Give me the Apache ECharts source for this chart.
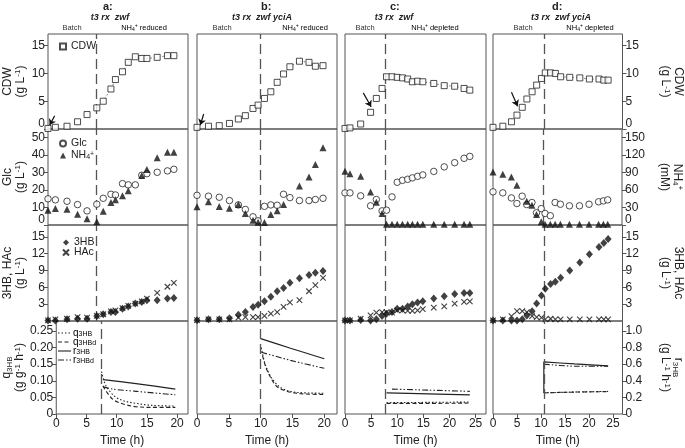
<!DOCTYPE html>
<html><head><meta charset="utf-8">
<script src="https://cdn.jsdelivr.net/npm/echarts@6/dist/echarts.min.js"></script>
<style>html,body{margin:0;padding:0;background:#fff}#c{width:685px;height:448px}</style>
</head><body><div id="c"></div>
<script>
// ---------- DATA ----------
// Column a: t3 rx zwf, NH4+ reduced
const timeA = [0, 1.15, 2.96, 4.6, 6.08, 7.6, 8.6, 9.8, 10.5, 11.6, 12.5, 13.6, 14.6, 15.4, 17.0, 18.6, 19.6];
const cdwA  = [0.1, 0.3, 0.5, 1.3, 2.6, 3.8, 5.0, 7.2, 8.9, 10.3, 12.0, 13.0, 12.7, 12.7, 12.9, 13.2, 13.2];
const glcA  = [15.0, 14.4, 13.6, 11.7, 8.1, 11.9, 15.3, 17.6, 17.2, 23.7, 23.0, 23.0, 28.5, 29.4, 30.2, 31.0, 31.9];
const nh4A  = [25.4, 28.3, 27.1, 18.5, 10.6, 5.5, 23.7, 38.6, 43.2, 50.1, 58.7, null, 84.9, 95.2, 115.8, 124.9, 124.9];
const hb3A  = [0.1, 0.1, 0.3, 0.4, 0.4, 0.9, 1.2, 1.6, 1.6, 2.2, 2.6, 3.1, 3.4, 3.7, 3.7, 4.0, 4.1];
const hacA  = [0.1, 0.3, 0.4, 0.7, 0.6, 0.9, 1.2, 1.7, 1.9, 2.3, 2.7, 3.1, 3.5, 4.0, 5.0, 6.1, 6.8];
const q3hbA  = [[7.5,0.128],[8.0,0.094],[8.8,0.070],[9.8,0.051],[11.1,0.040],[13.2,0.032],[15.8,0.026],[19.7,0.024]];
const q3hbdA = [[7.7,0.085],[8.6,0.060],[9.6,0.041],[11.1,0.030],[13.2,0.022],[15.8,0.020],[19.7,0.020]];
const r3hbA  = [[7.75,0.415],[13.2,0.366],[19.7,0.300]];
const r3hbdA = [[7.75,0.327],[9.3,0.300],[13.2,0.273],[19.7,0.231]];
const switchA = 7.5;
const arrowA = [[1.04, 2.4], [0.26, 0.7]];

// Column b: t3 rx zwf yciA, NH4+ reduced
const timeB = [0, 1.8, 3.5, 5.1, 6.5, 7.6, 8.8, 9.6, 10.6, 11.6, 12.6, 13.6, 14.6, 16.1, 17.6, 18.6, 19.8];
const cdwB  = [0.3, 0.5, 0.6, 1.0, 1.8, 2.4, 3.7, 4.3, 5.5, 6.7, 8.4, 9.9, 11.2, 12.2, 12.0, 11.3, 11.4];
const glcB  = [17.0, 16.5, 15.9, 14.0, 11.5, 8.9, 4.7, 2.4, 10.7, 11.5, 11.3, 17.6, 15.7, 14.0, 14.0, 14.6, 15.3];
const nh4B  = [31.2, 39.8, 31.7, 28.8, 35.2, 19.7, 8.2, 4.8, 4.3, 18.0, 24.4, 35.2, null, 67.2, 82.7, 103.8, 132.9];
const hb3B  = [0.15, 0.3, 0.3, 0.5, 1.1, 1.6, 2.5, 2.9, 3.5, 4.3, 5.3, 5.9, 6.8, 7.6, 8.2, 8.6, 8.9];
const hacB  = [0.15, 0.3, 0.3, 0.3, 0.6, 0.7, 0.7, 0.7, 0.9, 1.3, 1.6, 2.5, 3.3, 3.7, 5.3, 6.4, 7.7];
const q3hbB  = [[10.1,0.200],[10.6,0.157],[11.3,0.123],[12.3,0.094],[13.6,0.075],[15.7,0.065],[20.0,0.0625]];
const q3hbdB = [[10.3,0.176],[10.8,0.142],[11.6,0.109],[12.6,0.082],[14.2,0.068],[16.3,0.061],[20.0,0.059]];
const r3hbB  = [[10.0,0.908],[14.7,0.792],[20.0,0.666]];
const r3hbdB = [[10.1,0.743],[14.7,0.646],[20.0,0.550]];
const switchB = 10.0;
const arrowB = [[1.05, 2.7], [0.52, 0.7]];

// Column c: t3 rx zwf, NH4+ depleted
const timeC = [0, 0.95, 3.0, 4.9, 6.0, 7.1, 7.95, 9.0, 10.0, 11.0, 12.0, 12.9, 13.9, 14.9, 17.0, 19.0, 21.0, 22.8, 23.9];
const cdwC  = [0.1, 0.2, 0.9, 3.0, 5.5, 7.3, 9.4, 9.4, 9.3, 9.2, 9.0, 8.5, 8.6, 8.5, 8.2, 7.8, 7.7, 7.3, 7.0];
const glcC  = [18.4, 18.4, 16.7, 11.0, 14.6, 8.1, 8.5, 16.1, 24.5, 25.6, 26.2, 27.0, 27.9, 28.7, 30.7, 33.3, 35.7, 38.2, 39.3];
const nh4C  = [92.3, 88.3, 83.7, 56.9, 39.1, 19.7, 1.5, 1.5, 1.5, 1.5, 1.5, 1.5, 1.5, 1.5, 1.5, 1.5, 1.5, 1.5, 1.5];
const hb3C  = [0.1, 0.1, 0.2, 0.1, 0.3, 0.9, 1.3, 1.6, 2.2, 2.2, 2.6, 3.0, 3.3, 3.5, 4.0, 4.4, 4.8, 5.0, 5.0];
const hacC  = [0.1, 0.1, 0.4, 1.0, 1.5, 1.6, 1.6, 1.5, 1.9, 1.9, 1.8, 1.8, 1.9, 2.1, 2.4, 2.6, 3.1, 3.4, 3.5];
const q3hbC  = [[7.95,0.034],[16,0.035],[23.9,0.036]];
const q3hbdC = [[7.95,0.032],[16,0.032],[23.9,0.033]];
const r3hbC  = [[7.95,0.254],[16,0.243],[23.9,0.231]];
const r3hbdC = [[9.0,0.300],[16,0.287],[23.9,0.273]];
const switchC = 7.8;
const arrowC = [[3.5, 6.5], [5.0, 4.0]];

// Column d: t3 rx zwf yciA, NH4+ depleted
const timeD = [0, 2.05, 3.85, 5.0, 6.1, 7.06, 8.15, 9.1, 10.1, 10.9, 12.0, 13.0, 14.1, 16.0, 18.1, 20.1, 22.1, 23.1, 24.0];
const cdwD  = [0.3, 0.5, 1.3, 2.5, 3.9, 5.4, 6.7, 7.9, 9.1, 10.1, 10.1, 10.0, 9.4, 9.3, 9.2, 9.0, 9.0, 8.8, 8.8];
const glcD  = [19.0, 18.4, 15.5, 12.3, 16.5, 11.7, 12.9, 7.0, 9.4, 6.6, 5.3, 12.9, 11.9, 11.0, 11.0, 11.9, 13.3, 13.8, 14.4];
const nh4D  = [91.2, 87.1, 82.6, 68.3, null, 40.8, 34.0, 18.0, 5.5, 1.5, 1.5, 1.5, 1.5, 1.5, 1.5, 1.5, 1.5, 1.5, 1.5];
const hb3D  = [0.1, 0.1, 0.1, 0.1, 0.3, 1.0, 1.75, 3.1, 4.55, 5.75, 6.6, 7.0, 7.7, 9.0, 10.4, 11.9, 13.2, 13.9, 14.6];
const hacD  = [0.1, 0.3, 0.85, 1.75, 1.75, 1.6, 0.85, 0.7, 0.6, 0.3, 0.4, 0.3, 0.3, 0.3, 0.3, 0.3, 0.3, 0.3, 0.3];
const q3hbD  = [[10.6,0.064],[17,0.066],[24.0,0.068]];
const q3hbdD = [[10.6,0.0635],[17,0.066],[24.0,0.0675]];
const r3hbD  = [[10.6,0.254],[10.6,0.627],[17,0.603],[24.0,0.580]];
const r3hbdD = [[10.6,0.600],[17,0.575],[24.0,0.575]];
const switchD = 10.6;
const arrowD = [[3.85, 6.6], [5.13, 4.1]];

// Tick labels
const xTicksAB = [0, 5, 10, 15, 20];
const xTicksCD = [0, 5, 10, 15, 20, 25];
const cdwTicks = [0, 5, 10, 15];
const glcTicks = [0, 10, 20, 30, 40, 50];
const nh4Ticks = [0, 30, 60, 90, 120, 150];
const hbTicks = [0, 3, 6, 9, 12, 15];
const qTicks = [0, 0.05, 0.10, 0.15, 0.20, 0.25];
const rTicks = [0, 0.2, 0.4, 0.6, 0.8, 1.0];

const titles = ['a:', 'b:', 'c:', 'd:'];
const strains = ['t3 rx  zwf', 't3 rx  zwf yciA', 't3 rx  zwf', 't3 rx  zwf yciA'];
const phases = ['reduced', 'reduced', 'depleted', 'depleted'];
const rateNames = ['q3HB', 'q3HBd', 'r3HB', 'r3HBd'];

// ---------- BUILD ----------
const F = 'Liberation Sans, Arial, Helvetica, sans-serif';
const INK = '#222';
const cols = [
  {t: timeA, cdw: cdwA, glc: glcA, nh4: nh4A, hb: hb3A, hac: hacA, q: q3hbA, qd: q3hbdA, r: r3hbA, rd: r3hbdA, sw: switchA, arrow: arrowA, xmax: 21.8, xt: xTicksAB},
  {t: timeB, cdw: cdwB, glc: glcB, nh4: nh4B, hb: hb3B, hac: hacB, q: q3hbB, qd: q3hbdB, r: r3hbB, rd: r3hbdB, sw: switchB, arrow: arrowB, xmax: 22.0, xt: xTicksAB},
  {t: timeC, cdw: cdwC, glc: glcC, nh4: nh4C, hb: hb3C, hac: hacC, q: q3hbC, qd: q3hbdC, r: r3hbC, rd: r3hbdC, sw: switchC, arrow: arrowC, xmax: 27.0, xt: xTicksCD},
  {t: timeD, cdw: cdwD, glc: glcD, nh4: nh4D, hb: hb3D, hac: hacD, q: q3hbD, qd: q3hbdD, r: r3hbD, rd: r3hbdD, sw: switchD, arrow: arrowD, xmax: 27.0, xt: xTicksCD}
];
const colL = [48, 197, 345, 493];
const colW = [140, 140, 141, 141];
const rowT = [34, 129, 225, 321];
const rowH = [95, 96, 96, 97];

const pairs = (t, v) => t.map((x, i) => [x, v[i]]).filter(p => p[1] !== null);

const nameRich = {
  n: {fontSize: 12, fontFamily: F, color: INK, lineHeight: 13},
  sup: {fontSize: 8, fontFamily: F, color: INK, lineHeight: 7, verticalAlign: 'top'},
  sub: {fontSize: 8, fontFamily: F, color: INK, lineHeight: 7, verticalAlign: 'bottom'}
};
const zeroRich = {z: {fontSize: 12, fontFamily: F, color: INK, padding: [0, 0, 11, 0]}};
const shiftedZero = v => v === 0 ? '{z|0}' : String(v);

const rowsLeft = [
  {min: 0, max: 17.1, ticks: cdwTicks, name: '{n|CDW}\n{n|(g L}{sup|-1}{n|)}', fmt: shiftedZero},
  {min: 0, max: 55, ticks: glcTicks, name: '{n|Glc}\n{n|(g L}{sup|-1}{n|)}', fmt: shiftedZero},
  {min: 0, max: 17.1, ticks: hbTicks, name: '{n|3HB, HAc}\n{n|(g L}{sup|-1}{n|)}', fmt: shiftedZero},
  {min: 0, max: 0.28, ticks: qTicks, name: '{n|q}{sub|3HB}\n{n|(g g}{sup|-1}{n| h}{sup|-1}{n|)}', fmt: v => v === 0 ? '0' : v.toFixed(2)}
];
const rowsRight = [
  {min: 0, max: 17.1, ticks: cdwTicks, name: '{n|CDW}\n{n|(g L}{sup|-1}{n|)}', fmt: shiftedZero},
  {min: 0, max: 165, ticks: nh4Ticks, name: '{n|NH}{sub|4}{sup|+}\n{n|(mM)}', fmt: shiftedZero},
  {min: 0, max: 17.1, ticks: hbTicks, name: '{n|3HB, HAc}\n{n|(g L}{sup|-1}{n|)}', fmt: shiftedZero},
  {min: 0, max: 1.12, ticks: rTicks, name: '{n|r}{sub|3HB}\n{n|(g L}{sup|-1}{n| h}{sup|-1}{n|)}', fmt: v => v === 0 ? '0' : v.toFixed(1)}
];

const grid = [], xAxis = [], yAxis = [], series = [];
const switchLine = sw => ({
  silent: true, symbol: 'none', label: {show: false},
  lineStyle: {type: [10, 5], color: '#555', width: 1.3}, data: [{xAxis: sw}]
});
const hollow = {color: '#fff', borderColor: INK, borderWidth: 1};
const crossPath = 'path://M0,0L10,10M10,0L0,10';
const rateStyles = [[1.5, 2], [4, 2.5], 'solid', [6, 2, 1.5, 2, 1.5, 2]];

cols.forEach((c, ci) => {
  for (let ri = 0; ri < 4; ri++) {
    const gi = ci * 4 + ri;
    grid.push({left: colL[ci], top: rowT[ri], width: colW[ci], height: rowH[ri], show: true,
      borderColor: '#555', borderWidth: 1, backgroundColor: 'transparent'});
    const bottomRow = ri === 3;
    xAxis.push({type: 'value', gridIndex: gi, min: 0, max: c.xmax,
      axisLine: {show: false}, splitLine: {show: false},
      axisTick: {show: bottomRow, length: 4, inside: false, lineStyle: {color: '#555'}, customValues: c.xt},
      axisLabel: {show: bottomRow, margin: 4, fontSize: 12, fontFamily: F, color: INK, customValues: c.xt},
      name: bottomRow ? 'Time (h)' : '', nameLocation: 'middle', nameGap: 21,
      nameTextStyle: {fontSize: 12, fontFamily: F, color: INK}});
    const L = rowsLeft[ri], R = rowsRight[ri];
    yAxis.push({type: 'value', gridIndex: gi, position: 'left', min: L.min, max: L.max,
      axisLine: {show: false}, splitLine: {show: false},
      axisTick: {show: ci === 0, length: 4, lineStyle: {color: '#555'}, customValues: L.ticks},
      axisLabel: {show: ci === 0, margin: 3, fontSize: 12, fontFamily: F, color: INK, customValues: L.ticks,
        formatter: L.fmt, rich: zeroRich},
      name: ci === 0 ? L.name : '', nameLocation: 'middle', nameRotate: 90, nameGap: 21,
      nameTextStyle: {rich: nameRich}});
    yAxis.push({type: 'value', gridIndex: gi, position: 'right', min: R.min, max: R.max,
      axisLine: {show: false}, splitLine: {show: false},
      axisTick: {show: ci === 3, length: 4, lineStyle: {color: '#555'}, customValues: R.ticks},
      axisLabel: {show: ci === 3, margin: 3, fontSize: 12, fontFamily: F, color: INK, customValues: R.ticks,
        formatter: R.fmt, rich: zeroRich},
      name: ci === 3 ? R.name : '', nameLocation: 'middle', nameRotate: -90, nameGap: 36,
      nameTextStyle: {rich: nameRich}});
    const yl = gi * 2, yr = gi * 2 + 1;
    if (ri === 0) {
      series.push({type: 'line', name: 'CDW trend', xAxisIndex: gi, yAxisIndex: yl,
        data: pairs(c.t, c.cdw).filter(p => p[0] >= c.sw), showSymbol: false, symbol: 'none',
        lineStyle: {type: [1.5, 2.5], color: '#777', width: 1}, z: 2, markLine: switchLine(c.sw)});
      series.push({type: 'scatter', name: 'CDW', xAxisIndex: gi, yAxisIndex: yl,
        data: pairs(c.t, c.cdw), symbol: 'rect', symbolSize: 6, itemStyle: hollow, z: 5,
        markLine: {silent: true, symbol: ['none', 'arrow'], symbolSize: 6, label: {show: false},
          lineStyle: {type: 'solid', color: '#111', width: 1.2},
          data: [[{coord: c.arrow[0]}, {coord: c.arrow[1]}]]}});
    } else if (ri === 1) {
      series.push({type: 'scatter', name: 'Glc', xAxisIndex: gi, yAxisIndex: yl,
        data: pairs(c.t, c.glc), symbol: 'circle', symbolSize: 6.5, itemStyle: hollow, z: 5,
        markLine: switchLine(c.sw)});
      series.push({type: 'scatter', name: 'NH4', xAxisIndex: gi, yAxisIndex: yr,
        data: pairs(c.t, c.nh4), symbol: 'triangle', symbolSize: 7, itemStyle: {color: '#111'}, z: 5});
    } else if (ri === 2) {
      series.push({type: 'scatter', name: '3HB', xAxisIndex: gi, yAxisIndex: yl,
        data: pairs(c.t, c.hb), symbol: 'diamond', symbolSize: [7, 8], itemStyle: {color: '#111'}, z: 5,
        markLine: switchLine(c.sw)});
      series.push({type: 'scatter', name: 'HAc', xAxisIndex: gi, yAxisIndex: yl,
        data: pairs(c.t, c.hac), symbol: crossPath, symbolSize: 5.5,
        itemStyle: {color: 'transparent', borderColor: '#111', borderWidth: 1.1}, z: 4});
    } else {
      const sets = [c.q, c.qd, c.r, c.rd];
      sets.forEach((d, k) => {
        const s = {type: 'line', name: rateNames[k], xAxisIndex: gi, yAxisIndex: k < 2 ? yl : yr, data: d,
          showSymbol: false, symbol: 'none', smooth: k < 2 ? 0.35 : 0.2,
          itemStyle: {color: INK}, lineStyle: {color: INK, width: k === 2 ? 1.2 : 1.1, type: rateStyles[k]}};
        if (k === 0) s.markLine = switchLine(c.sw);
        series.push(s);
      });
    }
  }
});

const legRich = {
  n: {fontSize: 10.5, fontFamily: F, color: INK, lineHeight: 10},
  s: {fontSize: 7, fontFamily: F, color: INK, lineHeight: 5, verticalAlign: 'bottom'},
  p: {fontSize: 7, fontFamily: F, color: INK, lineHeight: 5, verticalAlign: 'top'}
};
const legNames = {'CDW': '{n|CDW}', 'Glc': '{n|Glc}', 'NH4': '{n|NH}{s|4}{p|+}', '3HB': '{n|3HB}', 'HAc': '{n|HAc}'};
const mkLegend = (data, left, top, gap) => ({
  data: data, left: left, top: top, orient: 'vertical', itemWidth: 6, itemHeight: 6, itemGap: gap,
  selectedMode: false, padding: 0, formatter: n => legNames[n], textStyle: {rich: legRich, fontSize: 10.5}
});

const graphic = [];
const headerX = [[103, 110, 72, 144], [261, 262, 222, 305], [390, 394, 365, 435], [552, 561, 523, 590]];
headerX.forEach((h, i) => {
  graphic.push({type: 'text', left: h[0], top: 1, style: {text: titles[i], font: 'bold 11px ' + F, fill: INK}});
  graphic.push({type: 'text', x: h[1], y: 18, style: {text: strains[i], font: 'italic bold 9px ' + F, fill: INK, align: 'center', verticalAlign: 'middle'}});
  graphic.push({type: 'text', x: h[2], y: 28, style: {text: 'Batch', font: '7.5px ' + F, fill: '#333', align: 'center', verticalAlign: 'middle'}});
  graphic.push({type: 'text', x: h[3], y: 28, style: {text: '{a|NH}{b|4}{c|+}{a| ' + phases[i] + '}', align: 'center', verticalAlign: 'middle',
    rich: {a: {fontSize: 7.5, fontFamily: F, color: '#333', lineHeight: 9}, b: {fontSize: 5, fontFamily: F, color: '#333', lineHeight: 5, verticalAlign: 'bottom'},
      c: {fontSize: 5, fontFamily: F, color: '#333', lineHeight: 5, verticalAlign: 'top'}}}});
});
// legend for the rate lines (line-style keys)
const rateLabel = ['{n|q}{s|3HB}', '{n|q}{s|3HBd}', '{n|r}{s|3HB}', '{n|r}{s|3HBd}'];
rateNames.forEach((nm, k) => {
  const y = 333 + k * 9;
  graphic.push({type: 'line', shape: {x1: 58, y1: y, x2: 71, y2: y},
    style: {stroke: INK, lineWidth: 1.1, lineDash: rateStyles[k] === 'solid' ? null : rateStyles[k]}});
  graphic.push({type: 'text', x: 73, y: y, style: {text: rateLabel[k], verticalAlign: 'middle',
    rich: {n: {fontSize: 10, fontFamily: F, color: '#333', lineHeight: 10}, s: {fontSize: 7, fontFamily: F, color: '#333', lineHeight: 6, verticalAlign: 'bottom'}}}});
});

const chart = echarts.init(document.getElementById('c'));
chart.setOption({
  animation: false,
  backgroundColor: '#fff',
  grid, xAxis, yAxis, series, graphic,
  legend: [
    mkLegend(['CDW'], 59, 41, 3),
    mkLegend(['Glc', 'NH4'], 59, 138, 1),
    mkLegend(['3HB', 'HAc'], 62, 237, -1)
  ]
});
</script></body></html>
